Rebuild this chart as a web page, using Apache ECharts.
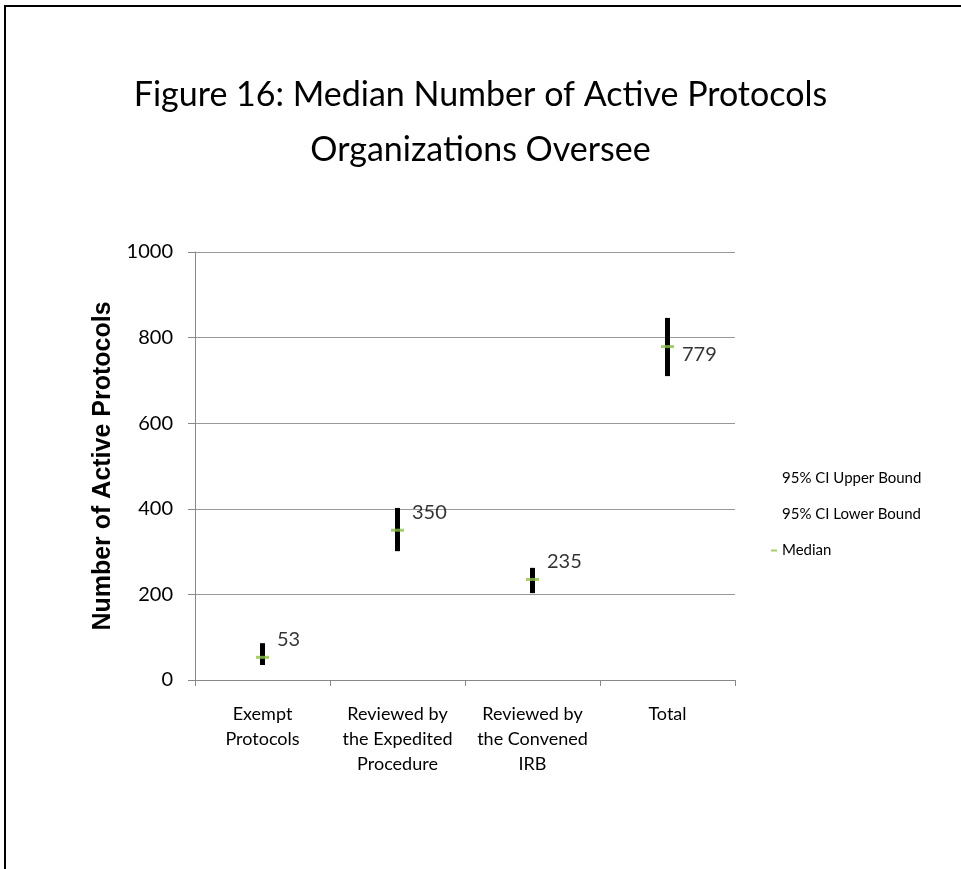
<!DOCTYPE html>
<html><head><meta charset="utf-8">
<script src="https://cdn.jsdelivr.net/npm/echarts@6/dist/echarts.min.js"></script>
<style>html,body{margin:0;padding:0;background:#fff;}#c{width:961px;height:869px;}</style>
</head><body><div id="c"></div>
<script>
const categories = ['Exempt\nProtocols', 'Reviewed by\nthe Expedited\nProcedure', 'Reviewed by\nthe Convened\nIRB', 'Total'];
const median = [53, 350, 235, 779];
const upperBound = [86, 402, 262, 846];
const lowerBound = [35, 301, 203, 710];
const yTicks = [0, 200, 400, 600, 800, 1000];

const FONT = 'Lato, "Open Sans", sans-serif';
const chart = echarts.init(document.getElementById('c'));
const labelDy = [-18, -18, -18, 8];

chart.setOption({
  backgroundColor: '#fff',
  animation: false,
  title: {
    text: 'Figure 16: Median Number of Active Protocols\nOrganizations Oversee',
    left: 'center', top: 63,
    textStyle: { fontFamily: FONT, fontSize: 34, fontWeight: 'normal', color: '#000', lineHeight: 55 }
  },
  graphic: [{ type: 'rect', shape: { x: 5, y: 6, width: 1100, height: 1000 }, style: { fill: 'none', stroke: '#000', lineWidth: 2 } }],
  legend: {
    orient: 'vertical', left: 766, top: 466, itemGap: 21, itemWidth: 6, itemHeight: 2,
    textStyle: { fontFamily: FONT, fontSize: 15, color: '#000' },
    data: [
      { name: '95% CI Upper Bound', icon: 'rect', itemStyle: { color: 'rgba(0,0,0,0)' } },
      { name: '95% CI Lower Bound', icon: 'rect', itemStyle: { color: 'rgba(0,0,0,0)' } },
      { name: 'Median', icon: 'rect', itemStyle: { color: '#8fc04a' } }
    ]
  },
  grid: { left: 195, right: 226, top: 252, bottom: 189 },
  xAxis: {
    type: 'category', data: categories, boundaryGap: true,
    axisLine: { lineStyle: { color: '#888', width: 1 } },
    axisTick: { show: true, interval: 0, length: 6, lineStyle: { color: '#888' } },
    axisLabel: { interval: 0, margin: 22, fontFamily: FONT, fontSize: 18, color: '#000', lineHeight: 25, verticalAlign: 'top' }
  },
  yAxis: {
    type: 'value', min: yTicks[0], max: yTicks[yTicks.length - 1], interval: 200,
    name: 'Number of Active Protocols', nameLocation: 'middle', nameGap: 78, nameRotate: 90,
    nameTextStyle: { fontFamily: 'Liberation Sans, Arial, sans-serif', fontSize: 25, fontWeight: 'bold', color: '#000' },
    axisLine: { show: true, lineStyle: { color: '#888' } },
    axisTick: { show: true, length: 7, lineStyle: { color: '#888' } },
    axisLabel: { fontFamily: FONT, fontSize: 20, color: '#000', margin: 22, formatter: v => String(v) },
    splitLine: { lineStyle: { color: '#999', width: 1 } }
  },
  series: [
    {
      name: 'hilo', type: 'custom', z: 3,
      data: categories.map((c, i) => [i, lowerBound[i], upperBound[i]]),
      encode: { x: 0, y: [1, 2] },
      renderItem: function (params, api) {
        const lo = api.coord([api.value(0), api.value(1)]);
        const hi = api.coord([api.value(0), api.value(2)]);
        return { type: 'rect', shape: { x: lo[0] - 2.5, y: hi[1], width: 5, height: lo[1] - hi[1] }, style: { fill: '#000' } };
      }
    },
    { name: '95% CI Upper Bound', type: 'line', data: upperBound, symbol: 'none', lineStyle: { opacity: 0 }, silent: true },
    { name: '95% CI Lower Bound', type: 'line', data: lowerBound, symbol: 'none', lineStyle: { opacity: 0 }, silent: true },
    {
      name: 'Median', type: 'scatter', z: 5, symbol: 'rect', symbolSize: [13, 3],
      itemStyle: { color: '#8fc04a' },
      data: median.map((v, i) => ({
        value: v,
        label: { show: true, position: 'right', distance: 8, offset: [0, labelDy[i]], formatter: '{c}', fontFamily: FONT, fontSize: 20, color: '#000' }
      }))
    }
  ]
});
</script></body></html>
